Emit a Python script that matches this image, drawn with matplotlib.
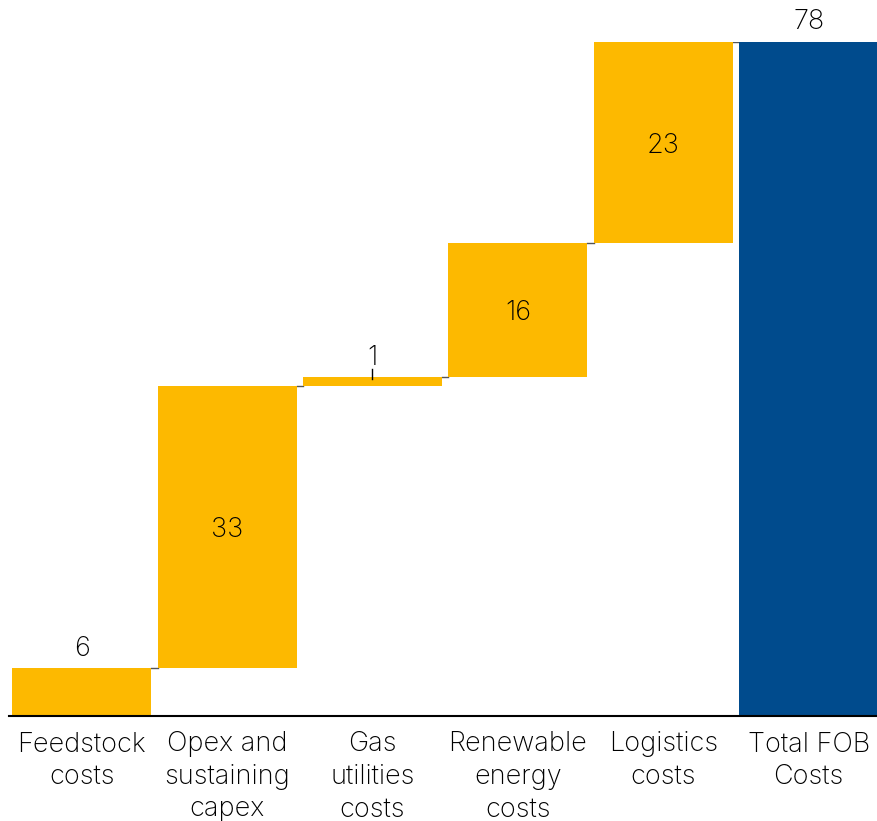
import matplotlib.pyplot as plt
import numpy as np

# waterfall: cost build-up to total FOB costs
categories = ["Feedstock\ncosts", "Opex and\nsustaining\ncapex", "Gas\nutilities\ncosts",
              "Renewable\nenergy\ncosts", "Logistics\ncosts", "Total FOB\nCosts"]
steps = [5.5, 32.7, 1.0, 15.5, 23.3]
total = 78.0

yellow = "#FDB900"
blue = "#004B8D"

plt.rcParams['font.family'] = ['Inter', 'DejaVu Sans']
plt.rcParams['font.weight'] = 'light'

fig = plt.figure(figsize=(8.77, 8.21), dpi=100)
ax = fig.add_axes([9 / 877, (821 - 716) / 821, 868 / 877, (716 - 42) / 821])

x = np.arange(len(categories))
width = 0.956
tops = np.cumsum(steps)
bottoms = tops - np.array(steps)

ax.bar(x[:-1], steps, bottom=bottoms, width=width, color=yellow, zorder=2)
ax.bar(x[-1], total, width=width, color=blue, zorder=2)

# connectors between consecutive bars
for i, t in enumerate(tops):
    ax.plot([x[i] + width / 2, x[i + 1] - width / 2], [t, t], color="#555555", lw=1, zorder=1)

# value labels
fs = 19.5
for i, (b, v) in enumerate(zip(bottoms, steps)):
    if v > 10:
        ax.text(x[i], b + v / 2 - 0.35, "{:.0f}".format(v), ha="center", va="center", fontsize=fs)
    else:
        ax.text(x[i], b + v + 0.7, "{:.0f}".format(v), ha="center", va="bottom", fontsize=fs)
ax.text(x[-1], total + 0.8, "{:.0f}".format(total), ha="center", va="bottom", fontsize=fs,
        clip_on=False)

# small leader for the thin gas bar
g = 2
ax.plot([x[g], x[g]], [tops[g] - 0.2, tops[g] + 0.9], color="black", lw=1, zorder=3)

ax.set_xlim(-0.5, 5.47)
ax.set_ylim(0, 78)
ax.set_xticks(x)
ax.set_xticklabels(categories, fontsize=19.5, linespacing=1.33, va="top")
ax.tick_params(axis="x", length=0, pad=11)
ax.set_yticks([])
for s in ["top", "right", "left"]:
    ax.spines[s].set_visible(False)
ax.spines["bottom"].set_linewidth(1.5)
ax.spines["bottom"].set_zorder(4)

fig.savefig("out.png", dpi=100)
